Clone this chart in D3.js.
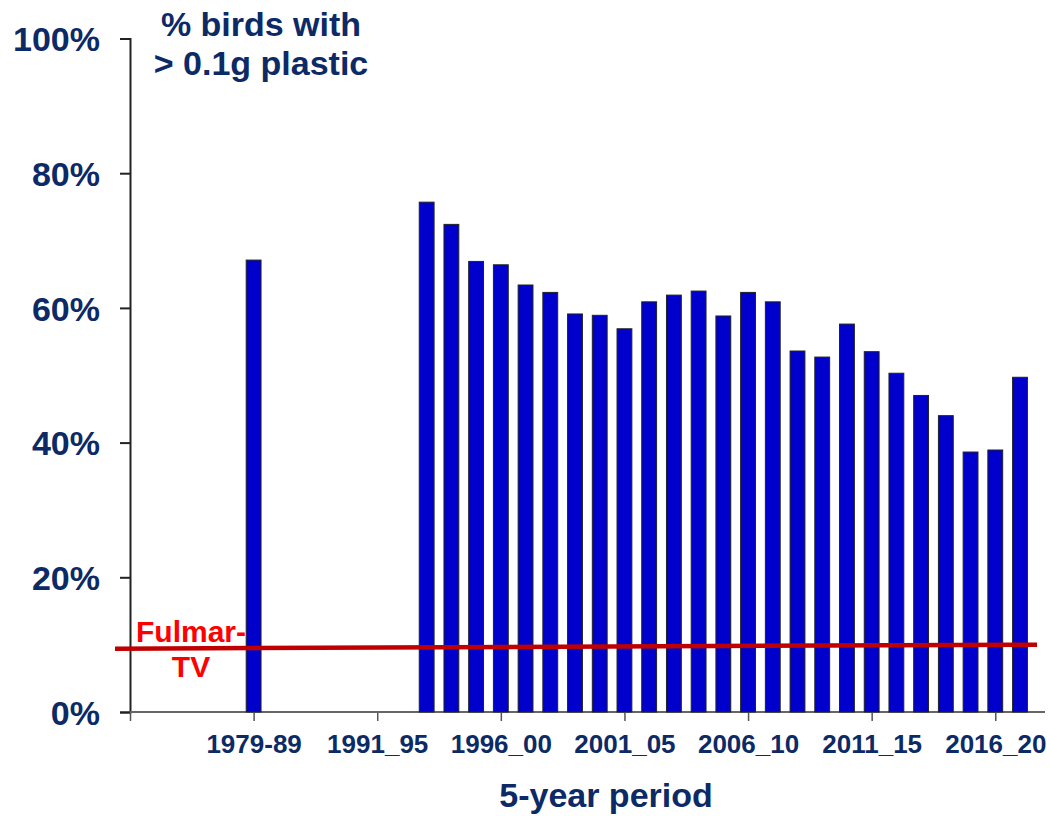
<!DOCTYPE html>
<html>
<head>
<meta charset="utf-8">
<script src="https://cdn.jsdelivr.net/npm/d3@7"></script>
<style>
  body { margin: 0; background: #fff; }
  text { font-family: "Liberation Sans", Arial, sans-serif; font-weight: bold; }
</style>
</head>
<body>
<div id="chart"></div>
<script>
// category slots along the x axis (blank = empty slot)
var slots = ["", "", "", "", "", "1979-89", "", "", "", "",
  "1991_95", "1992_96", "1993_97", "1994_98", "1995_99", "1996_00", "1997_01",
  "1998_02", "1999_03", "2000_04", "2001_05", "2002_06", "2003_07", "2004_08",
  "2005_09", "2006_10", "2007_11", "2008_12", "2009_13", "2010_14", "2011_15",
  "2012_16", "2013_17", "2014_18", "2015_19", "2016_20", "2017_21"];

var tickLabels = ["", "1979-89", "1991_95", "1996_00", "2001_05", "2006_10", "2011_15", "2016_20"];

// bars
var periods = ["1979-89", "1993_97", "1994_98", "1995_99", "1996_00", "1997_01",
  "1998_02", "1999_03", "2000_04", "2001_05", "2002_06", "2003_07", "2004_08",
  "2005_09", "2006_10", "2007_11", "2008_12", "2009_13", "2010_14", "2011_15",
  "2012_16", "2013_17", "2014_18", "2015_19", "2016_20", "2017_21"];
var pctPlastic = [67.1, 75.7, 72.4, 66.9, 66.4, 63.4,
  62.3, 59.1, 58.9, 56.9, 60.9, 61.9, 62.5,
  58.8, 62.3, 60.9, 53.6, 52.7, 57.6, 53.5,
  50.3, 47.0, 44.0, 38.6, 38.9, 49.7];

var yTicks = [0, 20, 40, 60, 80, 100];

// Fulmar-TV target line, value at start and end
var targetLine = [9.4, 10.0];

var navy = "#0c2a66";

var svg = d3.select("#chart")
  .append("svg")
  .attr("width", 1050)
  .attr("height", 816);

var x = d3.scalePoint()
  .domain(d3.range(slots.length))
  .range([130, 1020]);
var step = x.step();

var y = d3.scaleLinear()
  .domain([0, 100])
  .range([712, 38.5]);

// Y axis
var yAxis = svg.append("g")
  .attr("transform", "translate(130,0)")
  .call(d3.axisLeft(y).tickValues(yTicks).tickFormat(function (d) { return d + "%"; })
    .tickSize(10).tickPadding(20));
yAxis.select(".domain").attr("stroke", "#222").attr("stroke-width", 2);
yAxis.selectAll(".tick line").attr("stroke", "#222").attr("stroke-width", 2);
yAxis.selectAll(".tick text")
  .attr("fill", navy)
  .style("font-size", "34px")
  .style("font-family", "'Liberation Sans', Arial, sans-serif")
  .style("font-weight", "bold")
  .attr("dy", "0.36em");

// X axis
var tickIdx = tickLabels.map(function (t, i) { return i * 5; });
var xAxis = svg.append("g")
  .attr("transform", "translate(0,712)")
  .call(d3.axisBottom(x).tickValues(tickIdx)
    .tickFormat(function (d) { return slots[d]; })
    .tickSize(9).tickSizeOuter(0).tickPadding(14));
xAxis.select(".domain").remove();
xAxis.append("line")
  .attr("x1", 130).attr("x2", 1045)
  .attr("stroke", "#666").attr("stroke-width", 2);
xAxis.selectAll(".tick line").attr("stroke", "#555").attr("stroke-width", 1.5);
xAxis.selectAll(".tick text")
  .attr("fill", navy)
  .style("font-size", "26px")
  .style("font-family", "'Liberation Sans', Arial, sans-serif")
  .style("font-weight", "bold");

// Bars
var data = periods.map(function (p, i) { return { idx: slots.indexOf(p), value: pctPlastic[i] }; });
var barW = step * 0.6;
svg.selectAll("rect.bar")
  .data(data)
  .enter()
  .append("rect")
  .attr("class", "bar")
  .attr("x", function (d) { return x(d.idx) - barW / 2; })
  .attr("y", function (d) { return y(d.value); })
  .attr("width", barW)
  .attr("height", function (d) { return y(0) - y(d.value); })
  .attr("fill", "#0000cc")
  .attr("stroke", "#222")
  .attr("stroke-width", 1);

// Fulmar-TV line
svg.append("line")
  .attr("x1", x(0) - 15)
  .attr("x2", x(slots.length - 1) + 17)
  .attr("y1", y(targetLine[0]))
  .attr("y2", y(targetLine[1]))
  .attr("stroke", "#c00000")
  .attr("stroke-width", 4.5);

svg.append("text")
  .attr("x", 191).attr("y", 642)
  .attr("text-anchor", "middle")
  .attr("fill", "#ff0000")
  .style("font-size", "30px")
  .text("Fulmar-");
svg.append("text")
  .attr("x", 191).attr("y", 677)
  .attr("text-anchor", "middle")
  .attr("fill", "#ff0000")
  .style("font-size", "30px")
  .text("TV");

// Titles
svg.append("text")
  .attr("x", 261).attr("y", 36)
  .attr("text-anchor", "middle")
  .attr("fill", navy)
  .style("font-size", "34px")
  .text("% birds with");
svg.append("text")
  .attr("x", 261).attr("y", 75)
  .attr("text-anchor", "middle")
  .attr("fill", navy)
  .style("font-size", "34px")
  .text("> 0.1g plastic");

svg.append("text")
  .attr("x", 606).attr("y", 807)
  .attr("text-anchor", "middle")
  .attr("fill", navy)
  .style("font-size", "34px")
  .text("5-year period");
</script>
</body>
</html>
